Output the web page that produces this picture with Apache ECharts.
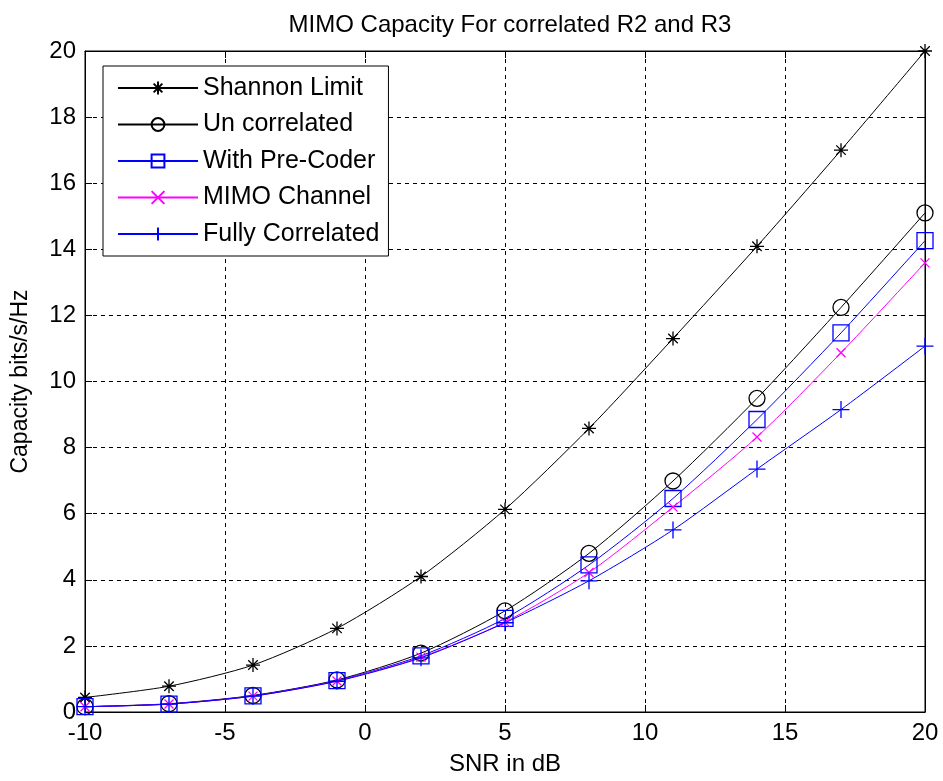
<!DOCTYPE html>
<html>
<head>
    <meta charset="utf-8">
    <title>MIMO Capacity</title>
    <script src="https://cdn.jsdelivr.net/npm/echarts@6/dist/echarts.min.js"></script>
    <style>
        html, body { margin: 0; padding: 0; background: #fff; }
        #container { width: 943px; height: 781px; }
    </style>
</head>
<body>
<div id="container"></div>
<script type="text/javascript">
    // SNR points (dB)
    var snr = [-10, -7, -4, -1, 2, 5, 8, 11, 14, 17, 20];
    // capacity, bits/s/Hz
    var shannon   = [0.44, 0.78, 1.42, 2.53, 4.10, 6.13, 8.58, 11.30, 14.09, 17.00, 20.00];
    var uncorr    = [0.16, 0.25, 0.50, 0.97, 1.78, 3.06, 4.80, 6.99, 9.49, 12.24, 15.10];
    var precoder  = [0.16, 0.24, 0.49, 0.95, 1.70, 2.83, 4.45, 6.46, 8.85, 11.47, 14.26];
    var mimo      = [0.16, 0.24, 0.48, 0.94, 1.66, 2.72, 4.22, 6.20, 8.32, 10.87, 13.59];
    var fullyCorr = [0.16, 0.24, 0.48, 0.93, 1.64, 2.70, 3.97, 5.51, 7.35, 9.15, 11.07];

    var names = ['Shannon Limit', 'Un correlated', 'With Pre-Coder', 'MIMO Channel', 'Fully Correlated'];

    function pairs(ys) {
        return snr.map(function (x, i) { return [x, ys[i]]; });
    }

    var font = 'Liberation Sans, Arial, sans-serif';

    // marker shapes (stroked paths)
    var starPath = 'path://M0,5L10,5M5,0L5,10M1.6,1.6L8.4,8.4M8.4,1.6L1.6,8.4';
    var plusPath = 'path://M0,5L10,5M5,0L5,10';
    var crossPath = 'path://M0,0L10,10M10,0L0,10';

    function line(name, ys, color, symbol, size) {
        return {
            name: name,
            type: 'line',
            data: pairs(ys),
            smooth: 0.25,
            symbol: symbol,
            symbolSize: size,
            showAllSymbol: true,
            lineStyle: { color: color, width: 1 },
            itemStyle: { color: 'rgba(0,0,0,0)', borderColor: color, borderWidth: 1.3 },
            emphasis: { disabled: true },
            z: 3
        };
    }

    var dom = document.getElementById('container');
    var myChart = echarts.init(dom, null, { renderer: 'canvas' });

    var option = {
        backgroundColor: '#fff',
        animation: false,
        title: {
            text: 'MIMO Capacity For correlated R2 and R3',
            left: 505,
            textAlign: 'center',
            top: 8,
            textStyle: { fontFamily: font, fontSize: 24, fontWeight: 'normal', color: '#000' }
        },
        legend: {
            orient: 'vertical',
            left: 103,
            top: 66,
            data: names,
            itemWidth: 80,
            itemHeight: 16,
            itemGap: 10.5,
            padding: [9, 9, 9, 14],
            borderColor: '#000',
            borderWidth: 1,
            backgroundColor: '#fff',
            selectedMode: false,
            textStyle: { fontFamily: font, fontSize: 25, color: '#000', lineHeight: 26 },
            z: 10
        },
        grid: {
            left: 85,
            right: 18,
            top: 51,
            bottom: 68,
            show: true,
            borderColor: '#000',
            borderWidth: 1,
            backgroundColor: '#fff'
        },
        xAxis: [{
            type: 'value',
            min: -10,
            max: 20,
            interval: 5,
            name: 'SNR in dB',
            nameLocation: 'middle',
            nameGap: 40,
            nameTextStyle: { fontFamily: font, fontSize: 24, color: '#000' },
            axisLine: { show: true, onZero: false, lineStyle: { color: '#000' } },
            axisTick: { inside: true, length: 7, lineStyle: { color: '#000' } },
            axisLabel: { fontFamily: font, fontSize: 24, color: '#000', margin: 9 },
            splitLine: { show: true, lineStyle: { color: '#000', type: [4, 4], width: 1 } }
        }, {
            type: 'value',
            position: 'top',
            min: -10,
            max: 20,
            interval: 5,
            axisLine: { show: true, onZero: false, lineStyle: { color: '#000' } },
            axisTick: { inside: true, length: 7, lineStyle: { color: '#000' } },
            axisLabel: { show: false },
            splitLine: { show: false }
        }],
        yAxis: [{
            type: 'value',
            min: 0,
            max: 20,
            interval: 2,
            name: 'Capacity bits/s/Hz',
            nameLocation: 'middle',
            nameGap: 53,
            nameTextStyle: { fontFamily: font, fontSize: 23, color: '#000' },
            axisLine: { show: true, onZero: false, lineStyle: { color: '#000' } },
            axisTick: { inside: true, length: 7, lineStyle: { color: '#000' } },
            axisLabel: { fontFamily: font, fontSize: 24, color: '#000', margin: 9 },
            splitLine: { show: true, lineStyle: { color: '#000', type: [4, 4], width: 1 } }
        }, {
            type: 'value',
            position: 'right',
            min: 0,
            max: 20,
            interval: 2,
            axisLine: { show: true, onZero: false, lineStyle: { color: '#000' } },
            axisTick: { inside: true, length: 7, lineStyle: { color: '#000' } },
            axisLabel: { show: false },
            splitLine: { show: false }
        }],
        series: [
            line(names[0], shannon, '#000000', starPath, 14),
            line(names[1], uncorr, '#000000', 'circle', 16),
            line(names[2], precoder, '#0000ff', 'rect', 16),
            line(names[3], mimo, '#ff00ff', crossPath, 9),
            line(names[4], fullyCorr, '#0000ff', plusPath, 17)
        ]
    };

    myChart.setOption(option);
</script>
</body>
</html>
